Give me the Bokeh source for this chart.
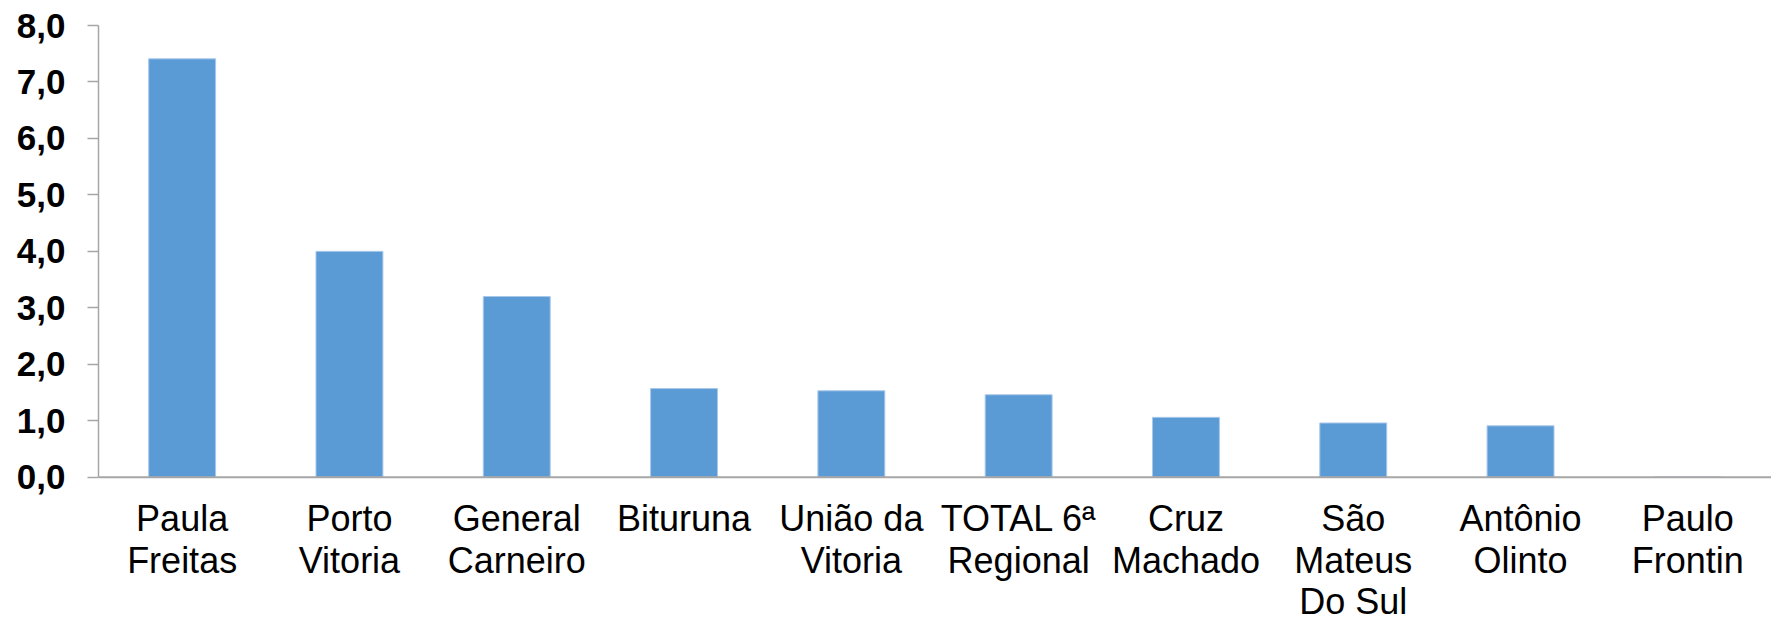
from bokeh.plotting import figure
from bokeh.models import FactorRange, Range1d, FixedTicker, LabelSet, ColumnDataSource, Span
from bokeh.core.properties import value
from bokeh.embed import file_html
from bokeh.resources import INLINE

categories = ["Paula Freitas", "Porto Vitoria", "General Carneiro", "Bituruna",
              "União da Vitoria", "TOTAL 6ª Regional", "Cruz Machado",
              "São Mateus Do Sul", "Antônio Olinto", "Paulo Frontin"]
label_line1 = ["Paula", "Porto", "General", "Bituruna", "União da", "TOTAL 6ª",
               "Cruz", "São", "Antônio", "Paulo"]
label_line2 = ["Freitas", "Vitoria", "Carneiro", "", "Vitoria", "Regional",
               "Machado", "Mateus", "Olinto", "Frontin"]
label_line3 = ["", "", "", "", "", "", "", "Do Sul", "", ""]
values = [7.41, 4.00, 3.2, 1.57, 1.53, 1.46, 1.06, 0.96, 0.91, 0.0]
y_ticks = [0, 1, 2, 3, 4, 5, 6, 7, 8]
y_tick_labels = ["0,0", "1,0", "2,0", "3,0", "4,0", "5,0", "6,0", "7,0", "8,0"]

FONT = "Liberation Sans"
AXIS_GREY = "#A6A6A6"

# layout geometry (pixels)
W, H = 1771, 622
LEFT, TOP = 98, 25
AXIS_SPAN_PX = 451.7          # pixel height from 0 to the top value
Y_MAX = 8
frame_h = H - TOP
y_min = -Y_MAX * (frame_h - AXIS_SPAN_PX) / AXIS_SPAN_PX   # room for category labels

p = figure(x_range=FactorRange(factors=categories), y_range=Range1d(y_min, Y_MAX),
           width=W, height=H, output_backend="svg", toolbar_location=None,
           min_border_left=LEFT, min_border_right=0, min_border_top=TOP,
           min_border_bottom=0)

p.vbar(x=categories, top=values, width=0.4, fill_color="#5B9BD5",
       line_color="#A8C8EA", line_width=1)

p.xgrid.visible = False
p.ygrid.visible = False
p.outline_line_color = None
p.xaxis.visible = False

# y axis
p.yaxis.bounds = (0, Y_MAX)
p.yaxis.ticker = FixedTicker(ticks=y_ticks)
p.yaxis.major_label_overrides = {t: l for t, l in zip(y_ticks, y_tick_labels)}
p.yaxis.major_label_text_font = FONT
p.yaxis.major_label_text_font_style = "bold"
p.yaxis.major_label_text_font_size = "35px"
p.yaxis.major_label_text_color = "black"
p.yaxis.axis_line_color = AXIS_GREY
p.yaxis.axis_line_width = 1.5
p.yaxis.major_tick_line_color = AXIS_GREY
p.yaxis.major_tick_line_width = 1.5
p.yaxis.major_tick_out = 11
p.yaxis.major_tick_in = 0
p.yaxis.minor_tick_line_color = None
p.yaxis.major_label_standoff = 22

# category axis baseline
p.add_layout(Span(location=0, dimension="width", line_color=AXIS_GREY, line_width=2))

# wrapped category labels
for lines, off in ((label_line1, -54), (label_line2, -96), (label_line3, -137)):
    src = ColumnDataSource(dict(x=categories, y=[0] * len(categories), text=lines))
    p.add_layout(LabelSet(x="x", y="y", text="text", source=src,
                          y_offset=off, text_align="center",
                          text_baseline="alphabetic",
                          text_font=value(FONT), text_font_size="36px",
                          text_color="black"))

open("out.html", "w").write(file_html(p, INLINE))
